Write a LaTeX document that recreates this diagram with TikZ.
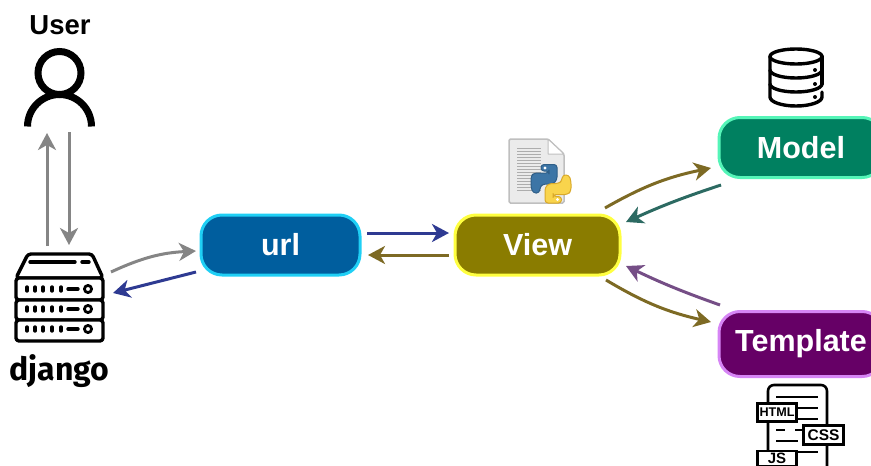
\documentclass[tikz,border=0pt]{standalone}
\usepackage{fontspec}
\setmainfont{Liberation Sans}
\newfontfamily\djfont{Fira Sans}
\usetikzlibrary{arrows.meta,calc}
\definecolor{arrGray}{HTML}{858585}
\definecolor{arrBlue}{HTML}{2E3A92}
\definecolor{arrOlive}{HTML}{7D6A24}
\definecolor{arrTeal}{HTML}{2C6A62}
\definecolor{arrPurple}{HTML}{754E86}
\definecolor{urlFill}{HTML}{005E9E}\definecolor{urlLine}{HTML}{1FCFF5}
\definecolor{viewFill}{HTML}{8A7C00}\definecolor{viewLine}{HTML}{FFFF40}
\definecolor{modelFill}{HTML}{008060}\definecolor{modelLine}{HTML}{55F5B8}
\definecolor{tplFill}{HTML}{660066}\definecolor{tplLine}{HTML}{D685F5}
\definecolor{pyBlue}{HTML}{3C75A6}\definecolor{pyBlueD}{HTML}{2F5F88}
\definecolor{pyYel}{HTML}{F9D44C}\definecolor{pyYelD}{HTML}{D9A92A}
\tikzset{
  x=1pt,y=-1pt,
  box/.style={rectangle,rounded corners=21pt,line width=3pt,text=white,
    font=\fontsize{30.5}{34}\selectfont\bfseries,inner sep=0pt},
  flow/.style={line width=3pt,-{Stealth[length=17pt,width=18pt,inset=5pt]}},
  icon/.style={rectangle,inner sep=0pt,minimum width=#1},
  ico/.style={draw=black,line width=3.4pt,line join=round,line cap=round},
  tagbox/.style={draw=black,fill=white,line width=2.4pt,inner sep=0pt},
}
\begin{document}
\begin{tikzpicture}
\useasboundingbox (0,0) rectangle (871,466);
\clip (0,0) rectangle (871,466);
% boxes
\node[box,draw=urlLine,fill=urlFill,minimum width=159pt,minimum height=60pt] (url) at (280.5,245) {url};
\node[box,draw=viewLine,fill=viewFill,minimum width=165pt,minimum height=60pt] (view) at (537.5,245) {View};
\node[box,draw=modelLine,fill=modelFill,minimum width=164pt,minimum height=60pt] (model) at (801,147.5) {Model};
\node[box,draw=tplLine,fill=tplFill,minimum width=164pt,minimum height=65pt] (template) at (801,344) {Template};
% anchors of the icons
\node[icon=70pt,minimum height=80pt] (user) at (60,88) {};
\node[icon=88pt,minimum height=88pt] (server) at (60,297) {};
% labels
\node[font=\fontsize{27.5}{30}\selectfont\bfseries,inner sep=0pt] (userlabel) at (60,25) {User};
\node[font=\djfont\fontsize{32}{36}\selectfont\bfseries,inner sep=0pt] (djlabel) at (59.5,371) {django};
% user icon
\draw[line width=7pt] (59.5,73) circle (21.5);
\draw[line width=7pt] (27.5,126.5) arc[start angle=180,end angle=360,radius=32];
% server icon
\draw[ico,fill=white,rounded corners=3pt] (16,278) -- (28,254) -- (92,254) -- (103,278) -- cycle;
\draw[ico,fill=white,rounded corners=3pt] (16,278) rectangle (103,300);
\draw[ico,fill=white,rounded corners=3pt] (16,300) rectangle (103,320);
\draw[ico,fill=white,rounded corners=3pt] (16,320) rectangle (103,341);
\draw[ico] (30,262) -- (75,262) (82,262) -- (89,262);
\foreach \yy in {289,309,329}{
  \foreach \xx in {27,35,43,52,61}{\draw[ico] (\xx,\yy-2) -- (\xx,\yy+2);}
  \draw[ico] (68,\yy) -- (78,\yy);
  \draw[ico,line width=2.8pt] (88,\yy) circle (3.6);
}
% python document icon
\draw[draw=black!25,fill=black!8,line width=1.5pt,rounded corners=1.5pt] (509,139) -- (548,139) -- (564,154) -- (564,203) -- (509,203) -- cycle;
\draw[draw=black!25,fill=white,line width=1pt,line join=round] (548,139) -- (548,154) -- (564,154) -- cycle;
\foreach \yy in {148,151,154,157,160,163,166,169,172,175,178,181,184,187,190}{
  \draw[black!32,line width=1pt] (517,\yy) -- (541,\yy);
}
\draw[draw=pyBlueD,fill=pyBlue,line width=1pt,rounded corners=3pt,line join=round]
  (541,164.5) -- (557,164.5) -- (557,180) -- (553,184) -- (543,184) -- (540,187) -- (539.5,193) -- (533,193) -- (531,187) -- (531,176) -- (534,173) -- (549,173) -- (549,171) -- (541,171) -- cycle;
\fill[white] (545,168) circle (1.6);
\draw[draw=pyYelD,fill=pyYel,line width=1pt,rounded corners=3pt,line join=round]
  (561.5,203) -- (545,203) -- (545,187.5) -- (549,183.5) -- (559,183.5) -- (562,180.5) -- (562.5,175) -- (569,175) -- (571,181) -- (571,191) -- (568,194.5) -- (553,194.5) -- (553,196.5) -- (561.5,196.5) -- cycle;
\fill[white] (557.5,199.5) circle (1.6);
% database icon
\draw[ico] (796,56.5) ellipse[x radius=26,y radius=7.5];
\draw[ico] (770,56.5) -- (770,97) arc[start angle=180,end angle=0,x radius=26,y radius=9] -- (822,92);
\draw[ico] (822,56.5) -- (822,84);
\draw[ico] (770,70) arc[start angle=180,end angle=0,x radius=26,y radius=8];
\draw[ico] (770,84) arc[start angle=180,end angle=0,x radius=26,y radius=8];
\fill (815,70) circle (2) (815,84) circle (2) (815,97) circle (2);
% html page icon
\draw[ico,line width=2.6pt,rounded corners=6pt] (768,470) -- (768,385) -- (827,385) -- (827,470);
\draw[ico,line width=2.4pt,line cap=butt] (776,397) -- (818,397) (797,408) -- (818,408) (797,419) -- (818,419)
  (776,430) -- (785,430) (795,430) -- (803,430) (776,441) -- (798,441) (797,452) -- (818,452);
\node[tagbox,font=\fontsize{12.6}{14}\selectfont\bfseries,minimum width=39pt,minimum height=18pt] (htmltag) at (777,412.5) {HTML};
\node[tagbox,font=\fontsize{15.5}{17}\selectfont\bfseries,minimum width=40pt,minimum height=19pt] (csstag) at (823.5,435) {CSS};
\node[tagbox,font=\fontsize{15}{16}\selectfont\bfseries,minimum width=39pt,minimum height=15pt,text height=10.5pt,text depth=0pt,anchor=north] (jstag) at (777,449.5) {JS};
% connectors
\draw[flow,arrGray] ($(server)+(-13,-51)$) -- ($(user)+(-13,45)$);
\draw[flow,arrGray] ($(user)+(9,44)$) -- ($(server)+(9,-52)$);
\draw[flow,arrGray] ($(server)+(51,-25)$) to[bend left=11] ($(url)+(-84.5,6)$);
\draw[flow,arrBlue] ($(url)+(-84.5,27)$) -- ($(server)+(53,-4)$);
\draw[flow,arrBlue] ($(url)+(86.5,-12)$) -- ($(view)+(-88.5,-12)$);
\draw[flow,arrOlive] ($(view)+(-88.5,10)$) -- ($(url)+(87.5,10)$);
\draw[flow,arrOlive] ($(view)+(67.5,-37)$) to[bend left=9] ($(model)+(-90,20.5)$);
\draw[flow,arrTeal] ($(model)+(-80,37.5)$) to[bend right=3] ($(view)+(88.5,-23)$);
\draw[flow,arrPurple] ($(template)+(-81,-39)$) to[bend left=3] ($(view)+(88.5,21)$);
\draw[flow,arrOlive] ($(view)+(68.5,35)$) to[bend right=9] ($(template)+(-90,-22)$);
\end{tikzpicture}
\end{document}
